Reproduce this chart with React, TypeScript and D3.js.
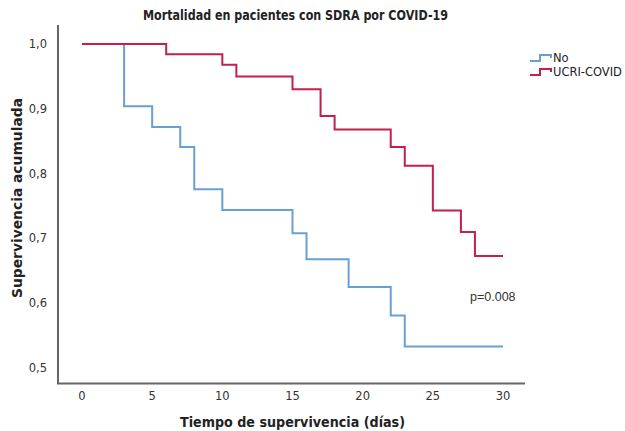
import React from "react";
import * as d3 from "d3";

const title = "Mortalidad en pacientes con SDRA por COVID-19";
const xLabel = "Tiempo de supervivencia (días)";
const yLabel = "Supervivencia acumulada";
const xTicks = [0, 5, 10, 15, 20, 25, 30];
const yTicks = [0.5, 0.6, 0.7, 0.8, 0.9, 1.0];
const seriesNames = ["No", "UCRI-COVID"];
const seriesColors = ["#6a9fd4", "#c41f4b"];

// step points: [day, survival]
const noTimes = [0, 3, 5, 7, 8, 10, 15, 16, 19, 22, 23, 30];
const noSurv = [1.0, 0.904, 0.872, 0.841, 0.776, 0.744, 0.708, 0.668, 0.625, 0.581, 0.533, 0.533];
const ucriTimes = [0, 6, 10, 11, 15, 17, 18, 22, 23, 25, 27, 28, 30];
const ucriSurv = [1.0, 0.984, 0.968, 0.95, 0.93, 0.889, 0.868, 0.841, 0.812, 0.743, 0.71, 0.673, 0.673];
const pText = "p=0.008";

const W = 625;
const H = 431;

export default function App() {
  const x = d3.scaleLinear().domain([0, 30]).range([82, 503]);
  const y = d3.scaleLinear().domain([0.5, 1.0]).range([368, 44]);
  const line = d3
    .line<[number, number]>()
    .x((d) => x(d[0]))
    .y((d) => y(d[1]))
    .curve(d3.curveStepAfter);
  const series = [
    noTimes.map((t, i) => [t, noSurv[i]] as [number, number]),
    ucriTimes.map((t, i) => [t, ucriSurv[i]] as [number, number]),
  ];
  const font = "'DejaVu Sans', sans-serif";
  return (
    <svg
      width={W}
      height={H}
      style={{ position: "absolute", left: 0, top: 0, background: "#fff" }}
      fontFamily={font}
    >
      <text
        x={295.5}
        y={20}
        textAnchor="middle"
        fontSize={13.5}
        fontWeight="bold"
        fill="#222"
        textLength={305}
        lengthAdjust="spacingAndGlyphs"
      >
        {title}
      </text>
      {/* axes */}
      <line x1={58} x2={58} y1={25} y2={384} stroke="#666" strokeWidth={2} />
      <line x1={57} x2={525} y1={383.5} y2={383.5} stroke="#666" strokeWidth={2} />
      {yTicks.map((t) => (
        <text key={t} x={47} y={y(t) + 4} textAnchor="end" fontSize={11.5} fill="#333">
          {d3.format(".1f")(t).replace(".", ",")}
        </text>
      ))}
      {xTicks.map((t) => (
        <text key={t} x={x(t)} y={400} textAnchor="middle" fontSize={11.5} fill="#333">
          {t}
        </text>
      ))}
      <text
        x={292.5}
        y={427}
        textAnchor="middle"
        fontSize={14}
        fontWeight="bold"
        fill="#222"
        textLength={225}
        lengthAdjust="spacingAndGlyphs"
      >
        {xLabel}
      </text>
      <text
        transform={`translate(22,${198}) rotate(-90)`}
        textAnchor="middle"
        fontSize={14}
        fontWeight="bold"
        fill="#222"
        textLength={200}
        lengthAdjust="spacingAndGlyphs"
      >
        {yLabel}
      </text>
      {series.map((s, i) => (
        <path key={i} d={line(s) || ""} fill="none" stroke={seriesColors[i]} strokeWidth={2} />
      ))}
      <text x={470} y={301} fontSize={12.5} fill="#333" fontFamily="'Liberation Sans', sans-serif">
        {pText}
      </text>
      {/* legend */}
      {seriesNames.map((n, i) => {
        const cy = 58 + i * 14;
        return (
          <g key={n}>
            <path
              d={`M530,${cy + 3} H540 V${cy - 3} H551 V${cy}`}
              fill="none"
              stroke={seriesColors[i]}
              strokeWidth={2}
            />
            <text x={553} y={cy + 4} fontSize={11.5} fill="#222">
              {n}
            </text>
          </g>
        );
      })}
    </svg>
  );
}
